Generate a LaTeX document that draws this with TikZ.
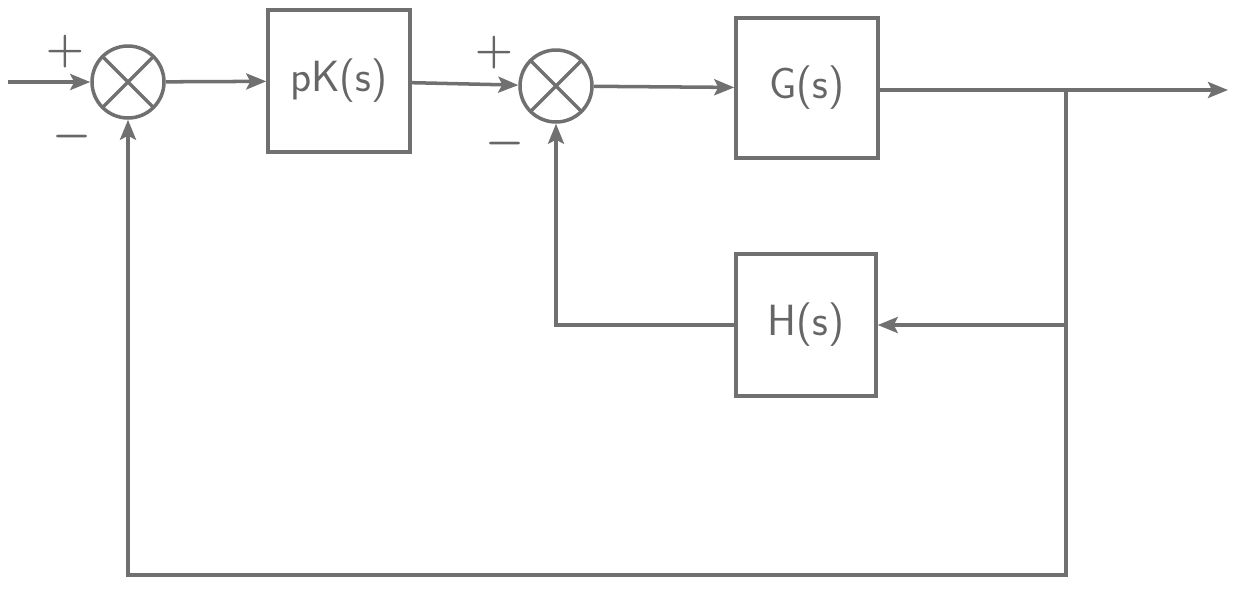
\documentclass[tikz,border=0pt]{standalone}
\usepackage{tikz}
\usepackage{xcolor}
\usepackage{amsmath}
\usetikzlibrary{arrows.meta, positioning, calc}
\definecolor{penline}{HTML}{707070}
\definecolor{pentext}{HTML}{666666}
\tikzset{
  blk/.style={draw=penline, line width=2pt, minimum width=2.84cm, minimum height=2.84cm,
              font=\sffamily\Huge, text=pentext, inner sep=0pt},
  sum/.style={circle, draw=penline, line width=2pt, minimum size=1.44cm, inner sep=0pt,
              path picture={\draw[penline, line width=2pt]
                (path picture bounding box.north west) -- (path picture bounding box.south east)
                (path picture bounding box.north east) -- (path picture bounding box.south west);}},
  sgn/.style={font=\fontsize{30}{30}\selectfont, text=pentext, inner sep=0pt},
  flow/.style={-{Stealth[length=4mm, width=3.2mm, inset=0.8mm]}, line width=2pt, draw=penline},
}
\begin{document}
\begin{tikzpicture}[x=0.02cm, y=-0.02cm]
  \useasboundingbox (0,0) rectangle (1233,589);
  % forward path
  \coordinate (in) at (8,82);
  \node (s1) [sum] at (128,82) {};
  \node (pk) [blk] at (339,81) {pK(s)};
  \node (s2) [sum] at (556,86) {};
  \node (g) [blk, minimum height=2.8cm] at (807,88) {G(s)};
  \coordinate (br) at (1066,90);
  \coordinate (out) at (1228,90);
  % feedback paths
  \node (h) [blk, minimum width=2.8cm] at (806,325) {H(s)};
  \coordinate (bl) at (1066,575);
  % signs
  \node (p1) [sgn] at (65,52) {$\boldsymbol{+}$};
  \node (m1) [sgn] at (72,137) {$\boldsymbol{-}$};
  \node (p2) [sgn] at (494,53) {$\boldsymbol{+}$};
  \node (m2) [sgn] at (505,144) {$\boldsymbol{-}$};
  \draw[flow] (in) -- (s1); \draw[flow] (s1) -- (pk); \draw[flow] (pk) -- (s2);
  \draw[flow] (s2) -- (g); \draw[flow] (g.east |- br) -- (out);
  \draw[flow] (br) |- (h.east);
  \draw[flow] (h.west) -| (s2.south);
  \draw[flow] (br) -- (bl) -| (s1.south);
\end{tikzpicture}
\end{document}
